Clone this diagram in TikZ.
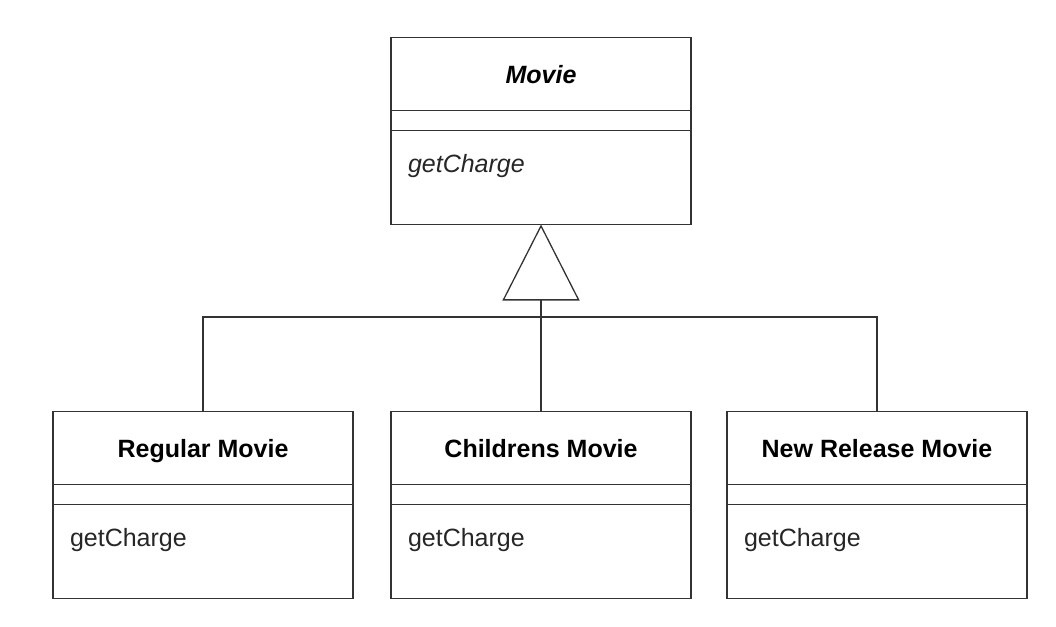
\documentclass[tikz,border=0pt]{standalone}
\usepackage{fontspec}
\setmainfont{Liberation Sans}
\usetikzlibrary{positioning,arrows.meta}

\begin{document}
\begin{tikzpicture}[x=1pt,y=-1pt,classname/.style={draw=black!80,line width=1.3pt,outer sep=0pt,inner sep=0pt,minimum width=300pt,minimum height=73pt,text height=18pt,text depth=0pt,font=\fontsize{25}{30}\selectfont\bfseries},classattr/.style={draw=black!80,line width=1.3pt,outer sep=0pt,inner sep=0pt,minimum width=300pt,minimum height=20pt},classops/.style={draw=black!80,line width=1.3pt,outer sep=0pt,inner xsep=17pt,inner ysep=0pt,text width=266pt,text height=42pt,text depth=52pt,align=left,text=black!85,font=\fontsize{25}{30}\selectfont},inherits/.style={draw=black!80,line width=1.3pt,-{Triangle[open,length=76pt,width=77pt,line width=1.3pt]}},branch/.style={draw=black!80,line width=1.3pt}]
\useasboundingbox (0,0) rectangle (1056,626);
\node[classname] (movie) at (541,74) {\itshape Movie};
\node[classattr,below=0pt of movie] (movie-attr) {};
\node[classops,below=0pt of movie-attr] (movie-ops) {\itshape getCharge};
\node[classname] (regular) at (203,448) {Regular Movie};
\node[classattr,below=0pt of regular] (regular-attr) {};
\node[classops,below=0pt of regular-attr] (regular-ops) {getCharge};
\node[classname] (childrens) at (541,448) {Childrens Movie};
\node[classattr,below=0pt of childrens] (childrens-attr) {};
\node[classops,below=0pt of childrens-attr] (childrens-ops) {getCharge};
\node[classname] (newrelease) at (877,448) {New Release Movie};
\node[classattr,below=0pt of newrelease] (newrelease-attr) {};
\node[classops,below=0pt of newrelease-attr] (newrelease-ops) {getCharge};
\coordinate (hub) at (541,317);
\draw[inherits] (childrens.north) -- (movie-ops.south);
\draw[branch] (regular.north) |- (hub) -| (newrelease.north);
\end{tikzpicture}
\end{document}
